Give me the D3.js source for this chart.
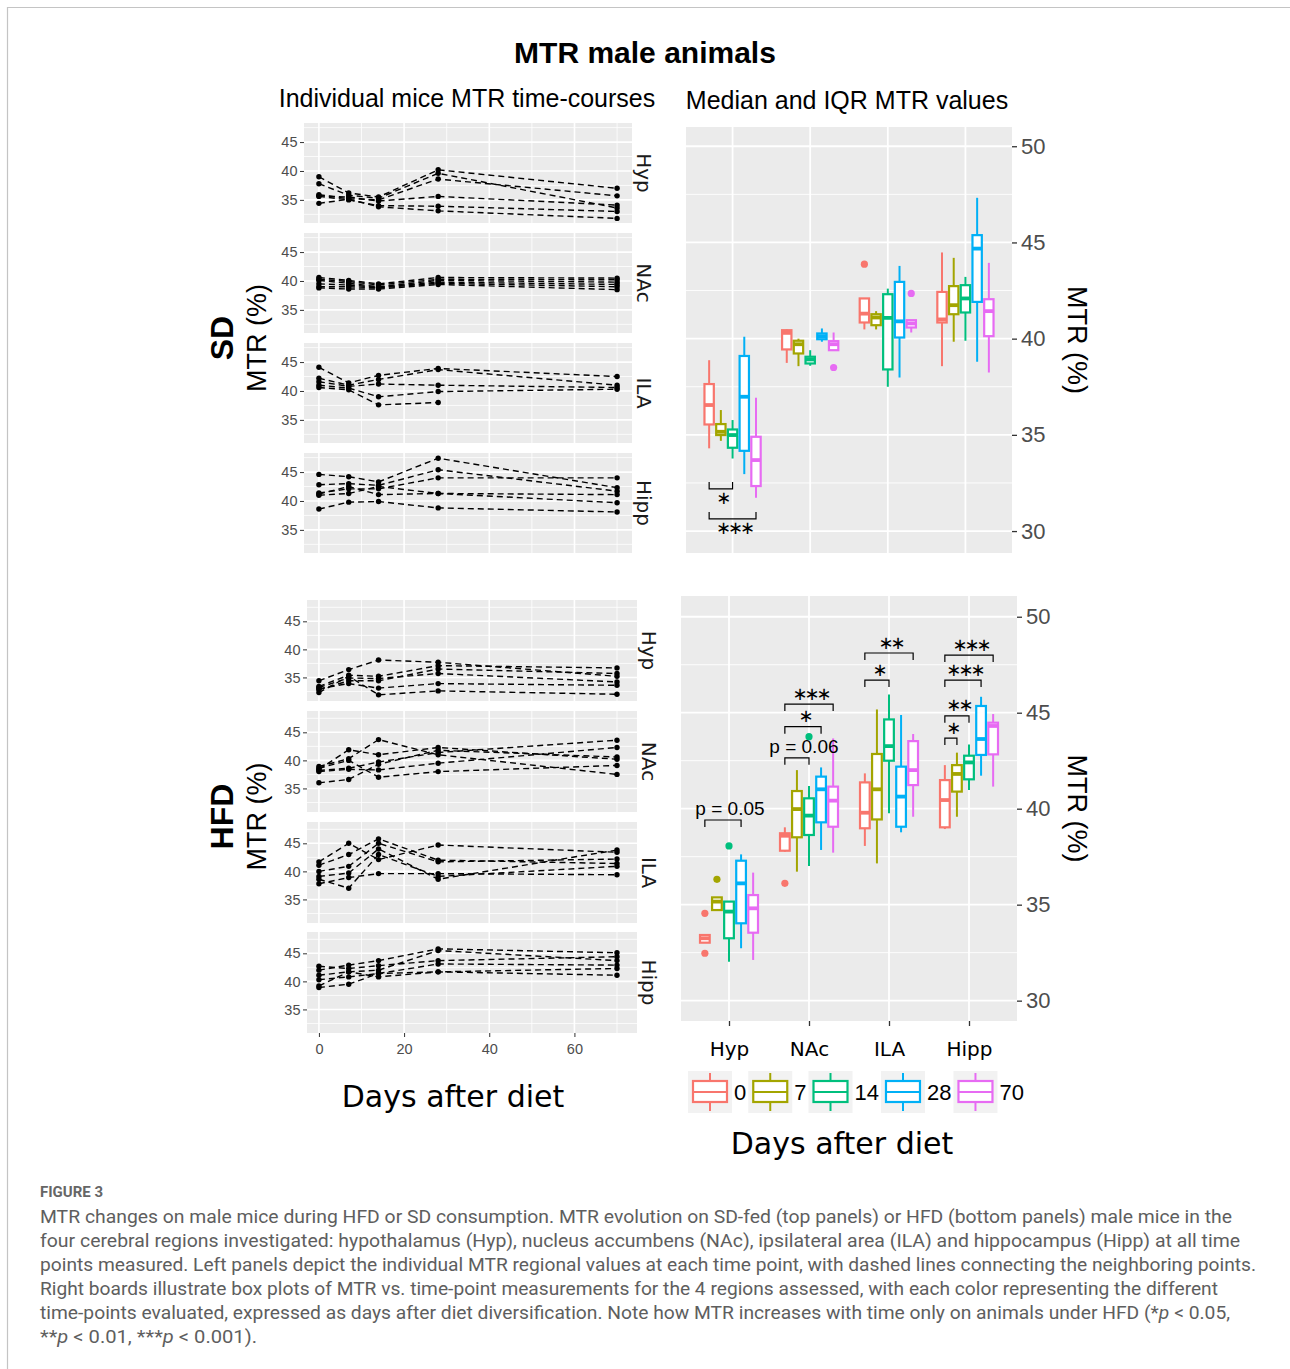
<!DOCTYPE html>
<html><head><meta charset="utf-8">
<script src="https://cdn.jsdelivr.net/npm/d3@7"></script>
<style>body{margin:0;background:#fff} svg{display:block}</style>
</head><body>
<svg id="c" width="1290" height="1369"></svg>
<script>
// ---------------- DATA ----------------
const days = [0, 7, 14, 28, 70];
const regions = ["Hyp", "NAc", "ILA", "Hipp"];
const dayTicks = [0, 20, 40, 60];
const leftYTicks = [35, 40, 45];
const rightYTicks = [30, 35, 40, 45, 50];
const colors = ["#F8766D", "#A3A500", "#00BF7D", "#00B0F6", "#E76BF3"];

// individual mice, values at days 0,7,14,28,70 (SD)
const sdHypMice = [
  [39.0, 36.2, 35.5, 40.2, 37.0],
  [37.8, 35.8, 35.3, 39.6, 33.6],
  [35.9, 35.2, 35.0, 38.6, 35.7],
  [35.7, 35.5, 34.8, 35.6, 34.1],
  [35.6, 35.0, 34.0, 33.9, 33.0],
  [34.4, 35.1, 33.8, 33.1, 31.8]];
const sdNAcMice = [
  [40.6, 40.1, 39.5, 40.6, 40.5],
  [40.3, 39.9, 39.3, 40.3, 40.2],
  [40.1, 39.6, 39.0, 40.1, 39.8],
  [39.5, 39.3, 38.9, 39.8, 39.4],
  [39.0, 39.0, 38.8, 39.6, 39.0],
  [38.8, 38.6, 38.6, 39.4, 38.5]];
const sdILAMice = [
  [44.1, 41.4, 42.7, 43.9, 42.5],
  [42.2, 41.0, 42.0, 43.7, 41.0],
  [41.6, 40.8, 41.2, 41.0, 40.6],
  [41.0, 40.5, 39.0, 39.9, 40.3],
  [40.6, 40.2, 37.6, 38.0, null]];
const sdHippMice = [
  [44.6, 44.2, 43.3, 47.4, 42.3],
  [42.8, 43.0, 42.7, 45.4, 41.7],
  [41.4, 42.1, 42.1, 44.0, 44.0],
  [41.0, 41.3, 42.5, 41.3, 41.1],
  [38.6, 39.8, 39.9, 38.8, 38.1],
  [41.2, 42.5, 41.1, 41.3, 39.7]];
// HFD
const hfdHypMice = [
  [34.4, 36.4, 38.1, 37.7, 35.2],
  [33.4, 35.4, 35.2, 37.1, 36.7],
  [33.2, 34.9, 34.8, 35.7, 34.2],
  [32.8, 34.4, 34.4, 36.5, 35.7],
  [33.0, 33.9, 33.1, 33.9, 33.6],
  [32.3, 35.2, 31.9, 32.6, 32.0]];
const hfdNAcMice = [
  [38.9, 40.3, 43.7, 41.0, 37.5],
  [38.4, 41.9, 41.0, 42.3, 40.2],
  [38.2, 38.6, 39.7, 41.4, 43.6],
  [38.0, 38.4, 38.3, 39.5, 42.3],
  [38.6, 40.0, 37.0, 38.0, 39.1],
  [36.0, 36.6, 39.3, 41.8, 40.6]];
const hfdILAMice = [
  [41.7, 45.0, 42.1, 44.7, 43.4],
  [41.1, 43.0, 45.8, 42.0, 41.4],
  [40.0, 40.9, 45.0, 41.7, 42.2],
  [39.1, 39.7, 44.0, 38.6, 43.8],
  [38.6, 37.0, 43.0, 39.1, 40.9],
  [37.8, 38.9, 39.6, 39.6, 39.4]];
const hfdHippMice = [
  [42.0, 42.9, 43.7, 45.8, 45.1],
  [42.7, 42.3, 42.8, 43.7, 44.4],
  [41.1, 41.7, 42.0, 45.5, 43.7],
  [40.3, 40.8, 41.4, 43.1, 42.9],
  [39.2, 41.7, 40.8, 41.7, 42.3],
  [38.9, 39.5, 41.4, 41.7, 41.1]];

// box stats per day: [lower whisker, Q1, median, Q3, upper whisker]
const sdHypBox = [[34.3,35.54,36.55,37.64,38.88],[34.69,34.99,35.16,35.56,36.29],[33.77,34.33,34.99,35.28,35.77],[32.96,34.17,36.98,39.1,40.1],[31.73,32.34,33.69,34.9,36.93]];
const sdNAcBox = [[38.74,39.44,40.3,40.44,40.48],[38.57,39.23,39.71,39.89,40.0],[38.59,38.71,38.92,39.06,39.4],[39.84,39.97,40.13,40.27,40.53],[39.4,39.4,39.71,39.87,40.32]];
const sdILABox = [[40.48,40.84,41.3,42.09,42.09],[40.48,40.7,41.1,41.27,41.43],[37.5,38.4,41.08,42.31,42.6],[37.98,40.06,40.9,42.95,43.78],[40.32,40.58,40.79,40.96,40.96]];
const sdHippBox = [[38.57,40.84,41.0,42.43,44.48],[39.84,41.27,41.74,42.73,44.2],[39.89,41.36,42.09,42.78,43.21],[38.8,41.91,44.68,45.38,47.32],[38.24,40.13,41.43,42.05,43.94]];
const hfdHypBox = [[33.02,33.02,33.25,33.42,33.42],[34.72,34.72,35.16,35.38,35.38],[32.03,33.25,34.64,35.16,35.16],[32.73,34.03,36.11,37.29,37.62],[32.12,33.54,34.81,35.5,36.67]];
const hfdNAcBox = [[37.76,37.81,38.59,38.72,39.03],[36.72,38.51,39.98,40.92,42.01],[37.01,38.63,39.64,40.54,41.18],[37.85,39.29,41.01,41.67,42.15],[37.71,39.06,40.42,41.15,43.66]];
const hfdILABox = [[38.06,38.98,39.79,41.37,41.84],[37.15,39.44,41.01,42.85,45.17],[39.76,42.5,43.26,44.65,45.95],[38.77,39.06,40.63,42.19,44.88],[39.58,41.23,42.01,43.52,43.89]];
const hfdHippBox = [[38.94,39.03,40.45,41.49,42.27],[39.58,40.89,41.81,42.27,42.92],[40.97,41.53,42.41,42.76,43.35],[41.72,42.8,43.63,45.35,45.83],[41.15,42.83,44.31,44.48,44.93]];

// outliers: [region, day, value]
const sdOutliers = [["NAc",70,38.5],["ILA",0,43.87],["ILA",70,42.35]];
const hfdOutliers = [["Hyp",0,34.55],["Hyp",0,32.47],["Hyp",7,36.32],["Hyp",14,38.06],["NAc",0,36.11],["NAc",14,43.75]];

// significance brackets: [region, fromDay, toDay, bracket value, label]
const sdBrackets = [["Hyp",0,14,32.19,"∗"],["Hyp",0,70,30.63,"∗∗∗"]];
const hfdBrackets = [
  ["Hyp",0,28,39.41,"p = 0.05"],
  ["NAc",0,14,42.65,"p = 0.06"],["NAc",0,28,44.27,"∗"],["NAc",0,70,45.45,"∗∗∗"],
  ["ILA",0,14,46.70,"∗"],["ILA",0,70,48.11,"∗∗"],
  ["Hipp",0,7,43.68,"∗"],["Hipp",0,14,44.84,"∗∗"],["Hipp",0,28,46.70,"∗∗∗"],["Hipp",0,70,48.0,"∗∗∗"]];

const captionLines = [
  "MTR changes on male mice during HFD or SD consumption. MTR evolution on SD-fed (top panels) or HFD (bottom panels) male mice in the",
  "four cerebral regions investigated: hypothalamus (Hyp), nucleus accumbens (NAc), ipsilateral area (ILA) and hippocampus (Hipp) at all time",
  "points measured. Left panels depict the individual MTR regional values at each time point, with dashed lines connecting the neighboring points.",
  "Right boards illustrate box plots of MTR vs. time-point measurements for the 4 regions assessed, with each color representing the different"
];

// ---------------- DRAWING ----------------
const svg = d3.select("#c");
svg.append("rect").attr("width",1290).attr("height",1369).attr("fill","#fff");
svg.append("path").attr("d","M7.5,1369V7.5H1290").attr("fill","none").attr("stroke","#c4c4c4").attr("stroke-width",1.2);

const AR = "'Liberation Sans', Arial, sans-serif";
const DV = "'DejaVu Sans', Verdana, sans-serif";

svg.append("text").attr("x",645).attr("y",63).attr("text-anchor","middle")
  .attr("font-family",AR).attr("font-weight","bold").attr("font-size",30).attr("fill","#000").text("MTR male animals");
svg.append("text").attr("x",467).attr("y",107).attr("text-anchor","middle")
  .attr("font-family",AR).attr("font-size",25).attr("fill","#000").text("Individual mice MTR time-courses");
svg.append("text").attr("x",847).attr("y",109).attr("text-anchor","middle")
  .attr("font-family",AR).attr("font-size",25).attr("fill","#000").text("Median and IQR MTR values");

const miceByDiet = {
  SD: [sdHypMice, sdNAcMice, sdILAMice, sdHippMice],
  HFD: [hfdHypMice, hfdNAcMice, hfdILAMice, hfdHippMice]
};

function drawLeft(cfg) {
  const x = d3.scaleLinear().domain(cfg.xDomain).range([cfg.x0, cfg.x1]);
  regions.forEach((reg, i) => {
    const top = cfg.tops[i], h = cfg.h;
    const y = d3.scaleLinear().domain(cfg.yDomain).range([top + h, top]);
    const g = svg.append("g");
    g.append("rect").attr("x",cfg.x0).attr("y",top).attr("width",cfg.x1-cfg.x0).attr("height",h).attr("fill","#ebebeb");
    [32.5,37.5,42.5,47.5].filter(v=>v>cfg.yDomain[0]&&v<cfg.yDomain[1]).forEach(v=>{
      g.append("line").attr("x1",cfg.x0).attr("x2",cfg.x1).attr("y1",y(v)).attr("y2",y(v)).attr("stroke","#fff").attr("stroke-width",0.8);
    });
    [10,30,50,70].forEach(v=>{
      g.append("line").attr("x1",x(v)).attr("x2",x(v)).attr("y1",top).attr("y2",top+h).attr("stroke","#fff").attr("stroke-width",0.8);
    });
    leftYTicks.forEach(v=>{
      g.append("line").attr("x1",cfg.x0).attr("x2",cfg.x1).attr("y1",y(v)).attr("y2",y(v)).attr("stroke","#fff").attr("stroke-width",1.6);
    });
    dayTicks.forEach(v=>{
      g.append("line").attr("x1",x(v)).attr("x2",x(v)).attr("y1",top).attr("y2",top+h).attr("stroke","#fff").attr("stroke-width",1.6);
    });
    const mice = miceByDiet[cfg.diet][i];
    const line = d3.line().defined(v => v != null).x((v,j)=>x(days[j])).y(v=>y(v));
    mice.forEach(m => {
      g.append("path").attr("d", line(m)).attr("fill","none").attr("stroke","#000")
        .attr("stroke-width",1.4).attr("stroke-dasharray","6,4");
    });
    mice.forEach(m => m.forEach((v,j)=>{
      if (v == null) return;
      g.append("circle").attr("cx",x(days[j])).attr("cy",y(v)).attr("r",2.7).attr("fill","#000");
    }));
    const ax = g.append("g").attr("transform",`translate(${cfg.x0},0)`)
      .call(d3.axisLeft(y).tickValues(leftYTicks).tickSize(4).tickPadding(2.5));
    ax.select(".domain").remove();
    ax.selectAll("line").attr("stroke","#333");
    ax.selectAll("text").attr("font-family",AR).attr("font-size",14.5).attr("fill","#4d4d4d");
    g.append("text").attr("transform",`translate(${cfg.x1+5},${top+h/2}) rotate(90)`)
      .attr("text-anchor","middle").attr("font-family",DV).attr("font-size",20).attr("fill","#1a1a1a").text(reg);
  });
  const mid = (cfg.tops[0] + cfg.tops[3] + cfg.h) / 2;
  svg.append("text").attr("transform",`translate(233,${mid}) rotate(-90)`).attr("text-anchor","middle")
    .attr("font-family",AR).attr("font-weight","bold").attr("font-size",32).attr("fill","#000").text(cfg.diet);
  svg.append("text").attr("transform",`translate(266,${mid}) rotate(-90)`).attr("text-anchor","middle")
    .attr("font-family",AR).attr("font-size",27).attr("fill","#000").text("MTR (%)");
  if (cfg.xAxis) {
    const bot = cfg.tops[3] + cfg.h;
    const ax = svg.append("g").attr("transform",`translate(0,${bot})`)
      .call(d3.axisBottom(x).tickValues(dayTicks).tickSize(4).tickPadding(7));
    ax.select(".domain").remove();
    ax.selectAll("line").attr("stroke","#333");
    ax.selectAll("text").attr("font-family",AR).attr("font-size",14.5).attr("fill","#4d4d4d");
  }
}

drawLeft({diet:"SD", tops:[123,233,343,453], h:100, x0:304, x1:632, xDomain:[-3.5,73.5], yDomain:[31,48.3], xAxis:false});
drawLeft({diet:"HFD", tops:[600,711,822,932], h:101, x0:307, x1:637, xDomain:[-2.8,74.7], yDomain:[30.8,48.8], xAxis:true});

svg.append("text").attr("x",453).attr("y",1107).attr("text-anchor","middle")
  .attr("font-family",DV).attr("font-size",30).attr("fill","#000").text("Days after diet");

const boxesByDiet = {
  SD: [sdHypBox, sdNAcBox, sdILABox, sdHippBox],
  HFD: [hfdHypBox, hfdNAcBox, hfdILABox, hfdHippBox]
};

function drawRight(cfg) {
  const xc = d3.scalePoint().domain(regions).range([cfg.x0, cfg.x1]).padding(0.6);
  const step = xc.step();
  const inner = d3.scaleBand().domain(days).range([-0.375*step, 0.375*step]).paddingInner(0.03);
  const bw = inner.bandwidth();
  const cx = (reg, day) => xc(reg) + inner(day) + bw/2;
  const y = d3.scaleLinear().domain(cfg.yDomain).range([cfg.bottom, cfg.top]);
  const g = svg.append("g");
  g.append("rect").attr("x",cfg.x0).attr("y",cfg.top).attr("width",cfg.x1-cfg.x0).attr("height",cfg.bottom-cfg.top).attr("fill","#ebebeb");
  [32.5,37.5,42.5,47.5].forEach(v=>{
    g.append("line").attr("x1",cfg.x0).attr("x2",cfg.x1).attr("y1",y(v)).attr("y2",y(v)).attr("stroke","#fff").attr("stroke-width",0.9);
  });
  rightYTicks.forEach(v=>{
    g.append("line").attr("x1",cfg.x0).attr("x2",cfg.x1).attr("y1",y(v)).attr("y2",y(v)).attr("stroke","#fff").attr("stroke-width",1.8);
  });
  regions.forEach(r=>{
    g.append("line").attr("x1",xc(r)).attr("x2",xc(r)).attr("y1",cfg.top).attr("y2",cfg.bottom).attr("stroke","#fff").attr("stroke-width",1.8);
  });
  const boxes = boxesByDiet[cfg.diet];
  regions.forEach((reg, i) => {
    boxes[i].forEach((s, j) => {
      const c = cx(reg, days[j]), col = colors[j];
      const [lo, q1, med, q3, hi] = s;
      g.append("line").attr("x1",c).attr("x2",c).attr("y1",y(hi)).attr("y2",y(q3)).attr("stroke",col).attr("stroke-width",2);
      g.append("line").attr("x1",c).attr("x2",c).attr("y1",y(q1)).attr("y2",y(lo)).attr("stroke",col).attr("stroke-width",2);
      g.append("rect").attr("x",c-bw/2+1).attr("y",y(q3)).attr("width",bw-2).attr("height",Math.max(0,y(q1)-y(q3)))
        .attr("fill","#fff").attr("stroke",col).attr("stroke-width",2.2);
      g.append("line").attr("x1",c-bw/2+1).attr("x2",c+bw/2-1).attr("y1",y(med)).attr("y2",y(med)).attr("stroke",col).attr("stroke-width",3.8);
    });
  });
  cfg.outliers.forEach(([reg, day, v]) => {
    g.append("circle").attr("cx",cx(reg,day)).attr("cy",y(v)).attr("r",3.6).attr("fill",colors[days.indexOf(day)]);
  });
  cfg.brackets.forEach(([reg, d0, d1, v, lab]) => {
    const xa = cx(reg,d0), xb = cx(reg,d1), yy = y(v);
    const dir = cfg.bracketDown ? 1 : -1;
    const tick = 7 * dir;
    g.append("path").attr("d",`M${xa},${yy+tick}V${yy}H${xb}V${yy+tick}`).attr("fill","none").attr("stroke","#000").attr("stroke-width",1.2);
    const isP = lab.startsWith("p");
    if (isP) {
      g.append("text").attr("x",(xa+xb)/2 + 7).attr("y",yy - 5).attr("text-anchor","middle")
        .attr("font-family",AR).attr("font-size",19).attr("fill","#000").text(lab);
    } else {
      // star centre ~10px away from the bracket line
      const centre = cfg.bracketDown ? yy - 10 : yy + 10;
      g.append("text").attr("x",(xa+xb)/2 + 1.5).attr("y",centre + 5.5).attr("text-anchor","middle")
        .attr("font-family",DV).attr("font-size",18).attr("letter-spacing",-3).attr("fill","#000").text(lab);
    }
  });
  const ax = g.append("g").attr("transform",`translate(${cfg.x1},0)`)
    .call(d3.axisRight(y).tickValues(rightYTicks).tickSize(5).tickPadding(4));
  ax.select(".domain").remove();
  ax.selectAll("line").attr("stroke","#333").attr("stroke-width",1.3);
  ax.selectAll("text").attr("font-family",AR).attr("font-size",22).attr("fill","#4d4d4d");
  svg.append("text").attr("transform",`translate(1068,${(cfg.top+cfg.bottom)/2}) rotate(90)`).attr("text-anchor","middle")
    .attr("font-family",AR).attr("font-size",27).attr("fill","#000").text("MTR (%)");
  if (cfg.xAxis) {
    const axb = g.append("g").attr("transform",`translate(0,${cfg.bottom})`)
      .call(d3.axisBottom(xc).tickSize(5).tickPadding(16));
    axb.select(".domain").remove();
    axb.selectAll("line").attr("stroke","#333").attr("stroke-width",1.3);
    axb.selectAll("text").attr("font-family",DV).attr("font-size",20).attr("fill","#000");
  }
}

drawRight({diet:"SD", x0:686, x1:1012, top:127, bottom:553, yDomain:[28.86,51], outliers:sdOutliers, brackets:sdBrackets, bracketDown:false, xAxis:false});
drawRight({diet:"HFD", x0:681, x1:1017, top:596, bottom:1021, yDomain:[28.94,51.08], outliers:hfdOutliers, brackets:hfdBrackets, bracketDown:true, xAxis:true});

// legend
let lx = 688;
const ly = 1071;
days.forEach((d, j) => {
  const lg = svg.append("g");
  lg.append("rect").attr("x",lx).attr("y",ly).attr("width",44).attr("height",42).attr("fill","#f2f2f2");
  const c = lx + 22;
  lg.append("line").attr("x1",c).attr("x2",c).attr("y1",ly+2).attr("y2",ly+40).attr("stroke",colors[j]).attr("stroke-width",2);
  lg.append("rect").attr("x",lx+5).attr("y",ly+10).attr("width",34).attr("height",21).attr("fill","#fff").attr("stroke",colors[j]).attr("stroke-width",2.2);
  lg.append("line").attr("x1",lx+5).attr("x2",lx+39).attr("y1",ly+21).attr("y2",ly+21).attr("stroke",colors[j]).attr("stroke-width",2.2);
  const t = lg.append("text").attr("x",lx+46).attr("y",ly+29).attr("font-family",AR).attr("font-size",22).attr("fill","#000").text(d);
  lx = lx + 46 + t.node().getComputedTextLength() + 2;
});
svg.append("text").attr("x",842).attr("y",1154).attr("text-anchor","middle")
  .attr("font-family",DV).attr("font-size",30).attr("fill","#000").text("Days after diet");

// caption
const CF = "'Liberation Sans Narrow', 'Roboto', 'Open Sans', sans-serif";
svg.append("text").attr("x",40).attr("y",1197).attr("font-family",CF).attr("font-size",14).attr("font-weight","bold")
  .attr("fill","#666").attr("textLength",63).attr("lengthAdjust","spacingAndGlyphs").text("FIGURE 3");
const capWidths = [1192, 1200, 1216, 1178];
captionLines.forEach((l, i) => {
  svg.append("text").attr("x",40).attr("y",1223 + i*24).attr("font-family",CF).attr("font-size",17.5)
    .attr("fill","#5e5e5e").attr("textLength",capWidths[i]).attr("lengthAdjust","spacingAndGlyphs").text(l);
});
const l5 = svg.append("text").attr("x",40).attr("y",1223+4*24).attr("font-family",CF).attr("font-size",17.5)
  .attr("fill","#5e5e5e").attr("textLength",1190).attr("lengthAdjust","spacingAndGlyphs");
l5.append("tspan").text("time-points evaluated, expressed as days after diet diversification. Note how MTR increases with time only on animals under HFD (*");
l5.append("tspan").attr("font-style","italic").text("p");
l5.append("tspan").text(" < 0.05,");
const l6 = svg.append("text").attr("x",40).attr("y",1223+5*24).attr("font-family",CF).attr("font-size",17.5)
  .attr("fill","#5e5e5e").attr("textLength",217).attr("lengthAdjust","spacingAndGlyphs");
l6.append("tspan").text("**");
l6.append("tspan").attr("font-style","italic").text("p");
l6.append("tspan").text(" < 0.01, ***");
l6.append("tspan").attr("font-style","italic").text("p");
l6.append("tspan").text(" < 0.001).");
</script></body></html>
